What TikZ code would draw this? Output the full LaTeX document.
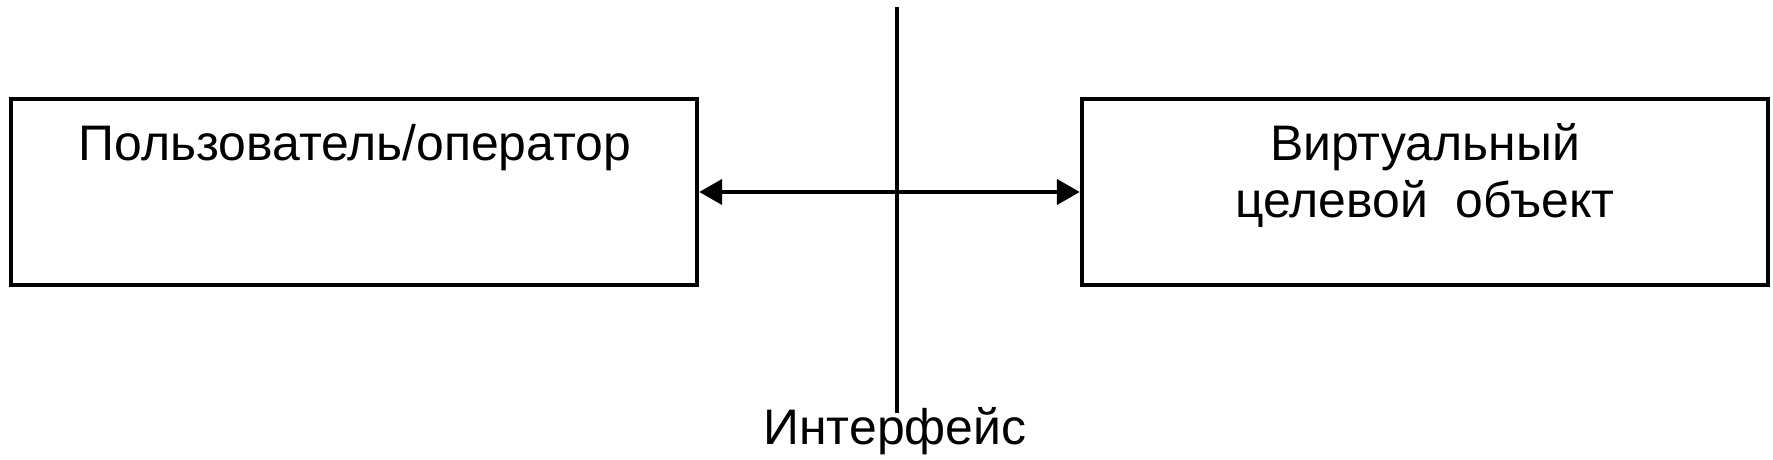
\documentclass[tikz,border=0pt]{standalone}
\usepackage{fontspec}
\setmainfont{Liberation Sans}
\usepackage{tikz}
\usetikzlibrary{arrows.meta, positioning}

\begin{document}
\begin{tikzpicture}[
    box/.style={draw, line width=1.25pt, minimum width=6.86cm, minimum height=1.86cm, inner sep=0pt},
    lbl/.style={font=\fontsize{14.2}{16.4}\selectfont, align=center, inner sep=0pt},
    link/.style={line width=1.25pt, {Triangle[length=0.23cm, width=0.25cm]}-{Triangle[length=0.23cm, width=0.25cm]}},
]
\useasboundingbox (0, 0) rectangle (17.73, -4.60);
% boxes
\node[box] (user) at (3.54, -1.92) {};
\node[box] (target) at (14.25, -1.92) {};
\node[lbl, anchor=base] (usertxt) at (3.55, -1.61) {Пользователь/оператор};
\node[lbl, anchor=base] (targettxt) at (14.25, -2.18) {Виртуальный\\целевой~~объект};
% interface line
\coordinate (iftop) at (8.97, -0.07);
\coordinate (ifbot) at (8.97, -4.13);
\draw[line width=1.25pt] (iftop) -- (ifbot);
\node[lbl, anchor=base] (iface) at (8.95, -4.45) {Интерфейс};
\draw[link] (user.east) -- (target.west);
\end{tikzpicture}
\end{document}
